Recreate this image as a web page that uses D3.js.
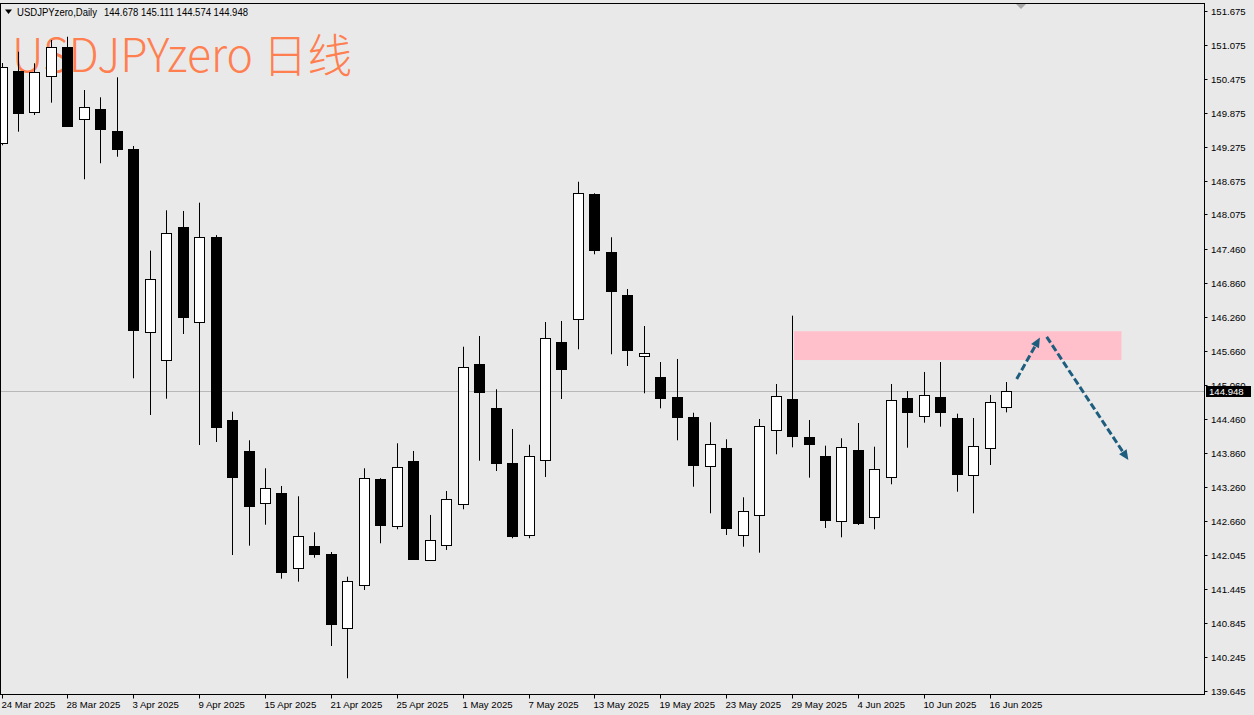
<!DOCTYPE html>
<html><head><meta charset="utf-8">
<script src="https://cdn.jsdelivr.net/npm/d3@7"></script>
<style>html,body{margin:0;padding:0;background:#e9e9e9;}svg{display:block;}</style>
</head><body>
<svg id="chart" width="1254" height="715"></svg>
<script>
// ---------- data ----------
const dates = ["24 Mar 2025","25 Mar 2025","26 Mar 2025","27 Mar 2025","28 Mar 2025",
"31 Mar 2025","1 Apr 2025","2 Apr 2025","3 Apr 2025","4 Apr 2025",
"7 Apr 2025","8 Apr 2025","9 Apr 2025","10 Apr 2025","11 Apr 2025",
"14 Apr 2025","15 Apr 2025","16 Apr 2025","17 Apr 2025","18 Apr 2025",
"21 Apr 2025","22 Apr 2025","23 Apr 2025","24 Apr 2025","25 Apr 2025",
"28 Apr 2025","29 Apr 2025","30 Apr 2025","1 May 2025","2 May 2025",
"5 May 2025","6 May 2025","7 May 2025","8 May 2025","9 May 2025",
"12 May 2025","13 May 2025","14 May 2025","15 May 2025","16 May 2025",
"19 May 2025","20 May 2025","21 May 2025","22 May 2025","23 May 2025",
"26 May 2025","27 May 2025","28 May 2025","29 May 2025","30 May 2025",
"2 Jun 2025","3 Jun 2025","4 Jun 2025","5 Jun 2025","6 Jun 2025",
"9 Jun 2025","10 Jun 2025","11 Jun 2025","12 Jun 2025","13 Jun 2025",
"16 Jun 2025","17 Jun 2025"];
const opens = [149.345,150.614,149.894,150.53,151.043,149.764,149.936,149.547,149.228,146.002,
145.495,147.848,146.168,147.672,144.439,143.891,142.966,143.143,141.826,142.216,
142.069,140.76,141.515,143.396,142.569,143.709,141.968,142.223,142.959,145.425,
144.657,143.673,142.41,143.726,145.825,146.221,148.438,147.417,146.645,145.566,
145.205,144.841,144.492,143.62,143.949,142.405,142.753,144.257,144.806,144.139,
143.803,142.647,143.909,142.729,143.431,144.823,144.505,144.841,144.475,143.466,
143.939,144.678];
const highs = [150.755,150.955,150.75,151.162,151.22,150.277,150.148,150.502,149.287,147.435,
148.149,148.137,148.284,147.71,144.586,144.08,143.585,143.272,143.09,142.453,
142.104,141.667,143.585,143.41,144.027,143.891,142.759,143.183,145.736,145.925,
144.983,144.28,144.002,146.173,146.191,148.655,148.45,147.672,146.757,146.102,
145.465,145.519,144.568,144.399,144.098,143.072,144.457,145.076,146.285,144.439,
143.985,144.116,144.386,143.967,145.076,144.952,145.289,145.465,144.551,144.475,
144.882,145.111];
const lows = [149.30,149.54,149.835,150.053,149.63,148.698,148.981,149.097,145.177,144.528,
144.816,145.961,143.997,144.05,142.051,142.216,142.587,141.632,141.579,142.003,
140.441,139.87,141.432,142.258,142.506,141.963,141.945,142.14,142.86,143.719,
143.537,142.347,142.347,143.431,144.811,145.69,147.371,145.602,145.395,144.912,
144.646,144.08,143.259,142.789,142.405,142.198,142.092,143.833,143.956,143.419,
142.529,142.364,142.582,142.506,143.302,143.949,144.392,144.321,143.171,142.789,
143.643,144.574];
const closes = [150.69,149.871,150.59,151.043,149.646,149.971,149.593,149.234,146.032,146.934,
147.742,146.256,147.672,144.321,143.426,142.913,143.231,141.745,142.393,142.074,
140.83,141.591,143.413,142.587,143.613,141.986,142.316,143.047,145.382,144.93,
143.684,142.382,143.797,145.885,145.342,148.45,147.442,146.727,145.672,145.619,
144.829,144.487,143.649,144.015,142.534,142.829,144.328,144.859,144.162,144.01,
142.676,143.962,142.623,143.578,144.788,144.576,144.876,144.576,143.484,143.979,
144.763,144.948];
const xTickLabels = ["24 Mar 2025","28 Mar 2025","3 Apr 2025","9 Apr 2025","15 Apr 2025","21 Apr 2025",
"25 Apr 2025","1 May 2025","7 May 2025","13 May 2025","19 May 2025","23 May 2025","29 May 2025",
"4 Jun 2025","10 Jun 2025","16 Jun 2025"];
const yTickLabels = ["151.675","151.075","150.475","149.875","149.275","148.675","148.075","147.460",
"146.860","146.260","145.660","145.060","144.460","143.860","143.260","142.660","142.045",
"141.445","140.845","140.245","139.645"];
const symbolName = "USDJPYzero,Daily";
const lastBar = ["144.678","145.111","144.574","144.948"];
const lastPrice = 144.948;
const titleText = "USDJPYzero 日线";
// resistance zone: bar-index span and price span
const zoneBars = [48.12, 68.0];
const zonePrices = [145.50, 146.01];
// projected path arrows: [bar index, price]
const arrowUp = [[61.64, 145.165], [63.05, 145.90]];
const arrowDown = [[63.46, 145.91], [68.42, 143.73]];

// ---------- layout ----------
const W = 1254, H = 715;
const plot = {left: 0.5, top: 3.5, right: 1204.5, bottom: 694.5};
const barStep = 16.47;
const x = d3.scaleLinear().domain([0, 73]).range([1.5, 1.5 + 73 * barStep]);
const y = d3.scaleLinear().domain([139.645, 151.675]).range([691, 11]);

const svg = d3.select("#chart");
svg.append("rect").attr("width", W).attr("height", H).attr("fill", "#e9e9e9");

svg.append("defs").append("clipPath").attr("id", "clip")
  .append("rect").attr("x", plot.left).attr("y", plot.top)
  .attr("width", plot.right - plot.left).attr("height", plot.bottom - plot.top);

const g = svg.append("g").attr("clip-path", "url(#clip)");

// title (drawn behind the candles)
g.append("text").attr("x", 12).attr("y", 72)
  .attr("font-family", "Noto Sans CJK SC, sans-serif").attr("font-size", "46px")
  .attr("font-weight", 300)
  .attr("textLength", 340).attr("lengthAdjust", "spacingAndGlyphs")
  .attr("fill", "#ff7f50").text(titleText);

// zone
g.append("rect")
  .attr("x", x(zoneBars[0])).attr("y", y(zonePrices[1]))
  .attr("width", x(zoneBars[1]) - x(zoneBars[0]))
  .attr("height", y(zonePrices[0]) - y(zonePrices[1]))
  .attr("fill", "#ffc0cb");

// last price line
g.append("line").attr("x1", plot.left).attr("x2", plot.right)
  .attr("y1", Math.round(y(lastPrice)) + 0.5).attr("y2", Math.round(y(lastPrice)) + 0.5)
  .attr("stroke", "#b8b8b8").attr("stroke-width", 1);

// candles
const bars = dates.map((d, i) => ({i, d, o: opens[i], h: highs[i], l: lows[i], c: closes[i]}));
const cg = g.append("g").selectAll("g").data(bars).join("g");
cg.append("line")
  .attr("x1", d => Math.round(x(d.i)) + 0.5).attr("x2", d => Math.round(x(d.i)) + 0.5)
  .attr("y1", d => y(d.h)).attr("y2", d => y(d.l))
  .attr("stroke", "#000").attr("stroke-width", 1);
cg.append("rect")
  .attr("x", d => Math.round(x(d.i)) - 5 + 0.5)
  .attr("width", 10)
  .attr("y", d => Math.round(y(Math.max(d.o, d.c))) + 0.5)
  .attr("height", d => Math.max(1, Math.round(y(Math.min(d.o, d.c))) - Math.round(y(Math.max(d.o, d.c)))))
  .attr("fill", d => d.c >= d.o ? "#ffffff" : "#000000")
  .attr("stroke", "#000").attr("stroke-width", 1);

// arrows
const arrowColor = "#1d5e7f";
function drawArrow(pts) {
  const x1 = x(pts[0][0]), y1 = y(pts[0][1]), x2 = x(pts[1][0]), y2 = y(pts[1][1]);
  const dx = x2 - x1, dy = y2 - y1, len = Math.hypot(dx, dy);
  const ux = dx / len, uy = dy / len;
  const headL = 10, headW = 4.5;
  const bx = x2 - ux * headL, by = y2 - uy * headL;
  g.append("line").attr("x1", x1).attr("y1", y1).attr("x2", bx).attr("y2", by)
    .attr("stroke", arrowColor).attr("stroke-width", 3).attr("stroke-dasharray", "7,3");
  g.append("path")
    .attr("d", `M${x2},${y2}L${bx - uy * headW},${by + ux * headW}L${bx + uy * headW},${by - ux * headW}Z`)
    .attr("fill", arrowColor);
}
drawArrow(arrowUp);
drawArrow(arrowDown);

// frame
svg.append("rect").attr("x", plot.left).attr("y", plot.top)
  .attr("width", plot.right - plot.left).attr("height", plot.bottom - plot.top)
  .attr("fill", "none").attr("stroke", "#000").attr("stroke-width", 1);

// right axis
const yAxis = svg.append("g");
yTickLabels.forEach(t => {
  const yy = Math.round(y(+t)) + 0.5;
  yAxis.append("line").attr("x1", plot.right).attr("x2", plot.right + 3)
    .attr("y1", yy).attr("y2", yy).attr("stroke", "#000");
  yAxis.append("text").attr("x", 1211).attr("y", yy).attr("dy", "0.35em")
    .attr("font-family", "Liberation Sans, Arial, sans-serif").attr("font-size", "9.6px")
    .attr("fill", "#000").text(t);
});
// last price tag
const ly = Math.round(y(lastPrice));
svg.append("rect").attr("x", 1206).attr("y", ly - 5).attr("width", 45).attr("height", 11).attr("fill", "#000");
svg.append("text").attr("x", 1209).attr("y", ly + 0.5).attr("dy", "0.35em")
  .attr("font-family", "Liberation Sans, Arial, sans-serif").attr("font-size", "9.6px")
  .attr("fill", "#fff").text(d3.format(".3f")(lastPrice));

// bottom axis
const xAxis = svg.append("g");
xTickLabels.forEach(t => {
  const i = dates.indexOf(t);
  const xx = Math.round(x(i)) + 0.5;
  xAxis.append("line").attr("x1", xx).attr("x2", xx).attr("y1", plot.bottom).attr("y2", plot.bottom + 4)
    .attr("stroke", "#000");
  xAxis.append("text").attr("x", xx - 1).attr("y", 705).attr("dy", "0.35em")
    .attr("font-family", "Liberation Sans, Arial, sans-serif").attr("font-size", "9.6px")
    .attr("fill", "#000").text(t);
});

// chart shift marker
const sx = x(61.9);
svg.append("path").attr("d", `M${sx - 5},4L${sx + 5},4L${sx},9Z`).attr("fill", "#a8a8a8");

// header
svg.append("path").attr("d", "M5,9.5L12,9.5L8.5,14Z").attr("fill", "#000");
svg.append("text").attr("x", 17).attr("y", 15.5)
  .attr("font-family", "Liberation Sans, Arial, sans-serif").attr("font-size", "10px")
  .attr("textLength", 80).attr("lengthAdjust", "spacingAndGlyphs")
  .attr("fill", "#000").text(symbolName);
svg.append("text").attr("x", 104).attr("y", 15.5)
  .attr("font-family", "Liberation Sans, Arial, sans-serif").attr("font-size", "10px")
  .attr("textLength", 144).attr("lengthAdjust", "spacingAndGlyphs")
  .attr("fill", "#000").text(lastBar.join(" "));
</script>
</body></html>
